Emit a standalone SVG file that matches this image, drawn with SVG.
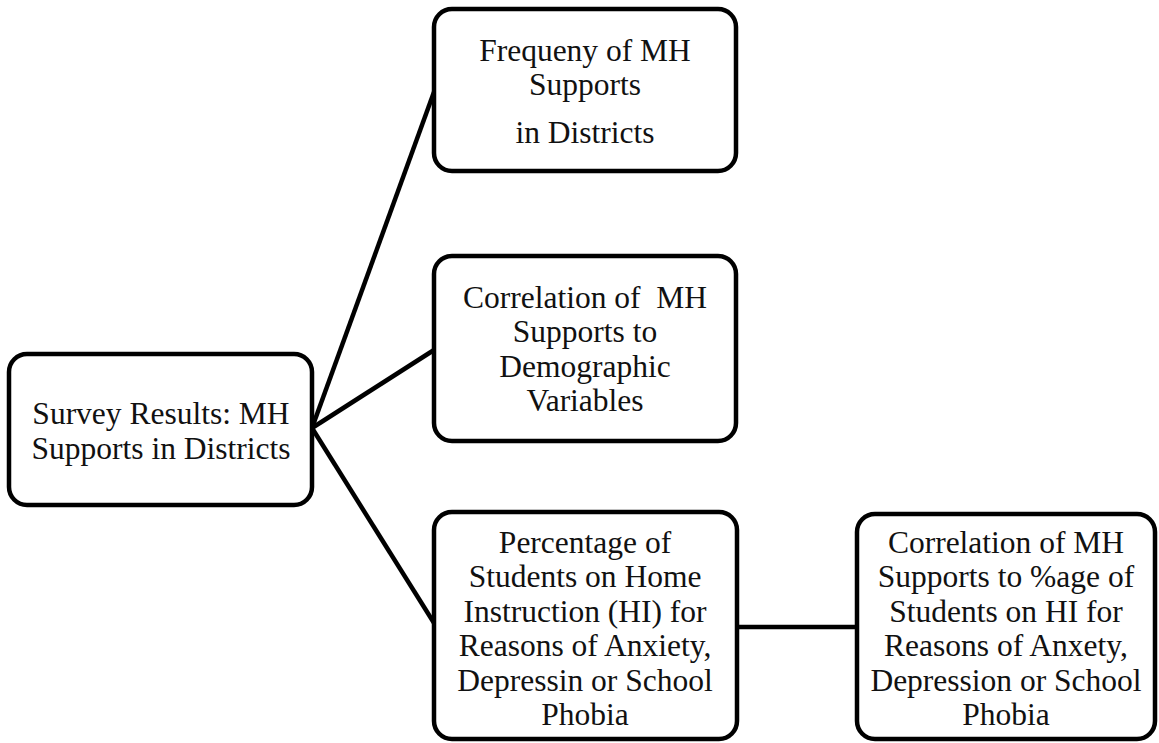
<svg xmlns="http://www.w3.org/2000/svg" width="1159" height="743" viewBox="0 0 1159 743">
<style>
.box{fill:#fff;stroke:#000;stroke-width:4.5}
.con{fill:none;stroke:#000;stroke-width:4.5}
text{font-family:"Liberation Serif","Times New Roman",serif;font-size:31.5px;fill:#111;text-anchor:middle}
</style>
<rect width="1159" height="743" fill="#fff"/>
<g id="connectors">
<line class="con" x1="312" y1="428" x2="434" y2="92"/>
<line class="con" x1="312" y1="428" x2="434" y2="350"/>
<line class="con" x1="312" y1="428" x2="434" y2="623"/>
<line class="con" x1="737" y1="627" x2="857" y2="627"/>
</g>
<g id="root">
<rect class="box" x="9" y="354" width="303" height="151" rx="18"/>
<text x="161" y="424">Survey Results: MH</text>
<text x="161" y="459">Supports in Districts</text>
</g>
<g id="frequency">
<rect class="box" x="434" y="9" width="302" height="162" rx="18"/>
<text x="585" y="61">Frequeny of MH</text>
<text x="585" y="95">Supports</text>
<text x="585" y="143">in Districts</text>
</g>
<g id="correlation-demo">
<rect class="box" x="434" y="256" width="302" height="185" rx="18"/>
<text x="585" y="308" xml:space="preserve">Correlation of  MH</text>
<text x="585" y="342">Supports to</text>
<text x="585" y="377">Demographic</text>
<text x="585" y="411">Variables</text>
</g>
<g id="percentage">
<rect class="box" x="434" y="512" width="303" height="227" rx="18"/>
<text x="585" y="553">Percentage of</text>
<text x="585" y="587">Students on Home</text>
<text x="585" y="622">Instruction (HI) for</text>
<text x="585" y="656">Reasons of Anxiety,</text>
<text x="585" y="691">Depressin or School</text>
<text x="585" y="725">Phobia</text>
</g>
<g id="correlation-hi">
<rect class="box" x="857" y="514" width="298" height="225" rx="18"/>
<text x="1006" y="553">Correlation of MH</text>
<text x="1006" y="587">Supports to %age of</text>
<text x="1006" y="622">Students on HI for</text>
<text x="1006" y="656">Reasons of Anxety,</text>
<text x="1006" y="691">Depression or School</text>
<text x="1006" y="725">Phobia</text>
</g>
</svg>
